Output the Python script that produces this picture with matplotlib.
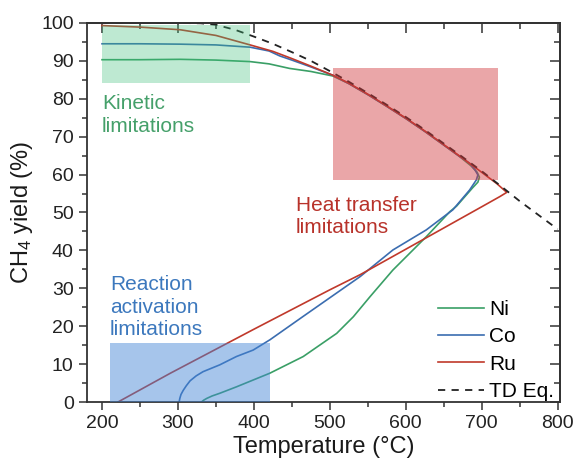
import matplotlib
matplotlib.use("Agg")
import matplotlib.pyplot as plt
from matplotlib.patches import Rectangle
from matplotlib.ticker import MultipleLocator

plt.rcParams['font.family'] = ['Liberation Sans', 'DejaVu Sans']
plt.rcParams['mathtext.fontset'] = 'custom'
plt.rcParams['mathtext.rm'] = 'Liberation Sans'
plt.rcParams['mathtext.it'] = 'Liberation Sans:italic'

# curvas: rama superior (200 -> giro) y rama inferior (giro -> arranque)
ni_T = [200, 250, 303, 350, 395, 420, 447, 475, 504, 525, 550, 575, 600, 625, 650, 670,
        686, 694, 697, 695, 688, 667, 658, 627, 583, 553, 531, 509, 465, 421, 399, 377,
        355, 345, 338, 334, 331]
ni_Y = [90.3, 90.3, 90.4, 90.2, 89.8, 89.2, 88.0, 87.2, 86.0, 84.0, 81.1, 78.0, 74.8, 71.4,
        67.8, 64.9, 62.3, 60.6, 59.3, 58.0, 56.5, 51.7, 50.2, 43.6, 34.8, 27.8, 22.5, 18.1,
        12.0, 7.6, 5.8, 4.0, 2.3, 1.6, 0.96, 0.5, 0.0]

co_T = [200, 250, 303, 350, 395, 420, 434, 450, 475, 504, 525, 550, 575, 600, 625, 650,
        670, 684, 691, 695, 693, 684, 662, 627, 583, 540, 515, 465, 421, 399, 377, 355,
        333, 324, 316, 311, 307, 304, 302.5, 301.5]
co_Y = [94.5, 94.5, 94.4, 94.2, 93.6, 92.6, 91.3, 90.2, 88.4, 86.2, 84.0, 81.1, 78.0, 74.8,
        71.4, 67.8, 64.9, 63.0, 61.3, 59.9, 58.6, 55.9, 50.7, 45.4, 40.1, 33.1, 29.6, 22.6,
        16.4, 13.7, 12.0, 9.8, 8.0, 6.9, 5.6, 4.3, 3.1, 2.0, 1.0, 0.0]

ru_T = [200, 250, 303, 350, 395, 425, 450, 475, 504, 525, 550, 575, 600, 625, 650, 675,
        700, 720, 733, 724, 700, 650, 600, 540, 500, 400, 290, 221]
ru_Y = [99.3, 98.9, 98.2, 96.7, 94.2, 92.5, 90.6, 88.6, 86.2, 84.1, 81.2, 78.1, 74.9, 71.5,
        67.9, 64.3, 60.6, 57.6, 55.3, 54.2, 51.5, 45.9, 40.3, 33.6, 29.6, 19.2, 7.6, 0.0]

eq_T = [200, 300, 330, 350, 375, 400, 425, 450, 475, 500, 525, 550, 575, 600, 625, 650,
        675, 700, 725, 750, 775, 800]
eq_Y = [100, 100, 99.9, 99.5, 98.2, 96.4, 94.5, 92.3, 90.0, 87.3, 84.5, 81.5, 78.4, 75.2,
        71.8, 68.2, 64.6, 60.9, 57.0, 53.0, 49.3, 45.6]

# zonas sombreadas: (T inicio, T fin, Y inicio, Y fin)
kin_box = (200, 395, 84.2, 99.5)
heat_box = (504, 721, 58.6, 88.2)
act_box = (210, 421, 0, 15.6)

c_ni = '#3a9f66'
c_co = '#3b6db0'
c_ru = '#c0392b'

fig = plt.figure(figsize=(5.79, 4.68), dpi=100)
ax = fig.add_axes([0.150, 0.141, 0.817, 0.810])

ax.plot(ni_T, ni_Y, color=c_ni, lw=1.2, label='Ni')
ax.plot(co_T, co_Y, color=c_co, lw=1.2, label='Co')
ax.plot(ru_T, ru_Y, color=c_ru, lw=1.2, label='Ru')
ax.plot(eq_T, eq_Y, color='#222222', lw=1.3, ls=(0, (4, 3.5)), label='TD Eq.')

for box, fc, a in [(kin_box, '#3cbf78', 0.33), (heat_box, '#d23a3e', 0.45),
                   (act_box, '#4285d6', 0.47)]:
    ax.add_patch(Rectangle((box[0], box[2]), box[1] - box[0], box[3] - box[2],
                           facecolor=fc, edgecolor='none', alpha=a, zorder=3))

# y = linea base de la ultima linea del texto
ax.text(200, 71.3, 'Kinetic\nlimitations', color='#45a06a', fontsize=15,
        va='baseline', ha='left', linespacing=1.22)
ax.text(455, 44.6, 'Heat transfer\nlimitations', color='#b8322a', fontsize=15,
        va='baseline', ha='left', linespacing=1.22)
ax.text(210.5, 17.7, 'Reaction\nactivation\nlimitations', color='#3c78bd', fontsize=15,
        va='baseline', ha='left', linespacing=1.22)

ax.set_xlim(180, 803)
ax.set_ylim(0, 100)
ax.xaxis.set_major_locator(MultipleLocator(100))
ax.xaxis.set_minor_locator(MultipleLocator(50))
ax.yaxis.set_major_locator(MultipleLocator(10))
ax.yaxis.set_minor_locator(MultipleLocator(5))
ax.tick_params(which='both', direction='out', labelsize=14, colors='#333333',
               labelcolor='#222222', width=1.1)
ax.tick_params(which='major', length=6)
ax.tick_params(which='minor', length=3.5)

# ticks hacia dentro arriba y a la derecha
top = ax.secondary_xaxis('top')
top.xaxis.set_major_locator(MultipleLocator(100))
top.xaxis.set_minor_locator(MultipleLocator(50))
top.tick_params(which='both', direction='in', labeltop=False, colors='#333333', width=1.1)
top.tick_params(which='major', length=7)
top.tick_params(which='minor', length=4)
right = ax.secondary_yaxis('right')
right.yaxis.set_major_locator(MultipleLocator(10))
right.yaxis.set_minor_locator(MultipleLocator(5))
right.tick_params(which='both', direction='in', labelright=False, colors='#333333', width=1.1)
right.tick_params(which='major', length=7)
right.tick_params(which='minor', length=4)

for sp in list(ax.spines.values()) + [top.spines['top'], right.spines['right']]:
    sp.set_color('#333333')
    sp.set_linewidth(1.3)

ax.set_xlabel('Temperature (°C)', fontsize=17, color='#1a1a1a', labelpad=3)
ax.set_ylabel('CH$_4$ yield (%)', fontsize=17, color='#1a1a1a', labelpad=4)

ax.legend(loc='lower right', bbox_to_anchor=(0.99, 0.0), frameon=False, fontsize=15,
          handlelength=2.2, handletextpad=0.25, labelspacing=0.4,
          borderaxespad=0.0, borderpad=0.05)

fig.savefig('out.png', dpi=100)
